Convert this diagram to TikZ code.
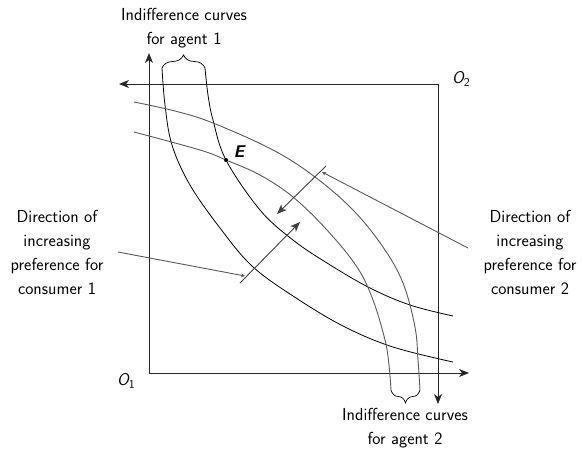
\documentclass[tikz,border=0pt]{standalone}
\usepackage{fontspec}
\usetikzlibrary{arrows.meta,decorations.pathreplacing}
\newcommand{\origlbl}[1]{{\sffamily\itshape O}\raisebox{-3.5pt}{\sffamily\fontsize{12}{12}\selectfont #1}}
\begin{document}
\begin{tikzpicture}[x=1pt,y=-1pt,
  lbl/.style={font=\sffamily\fontsize{17.4}{24}\selectfont, align=center, inner sep=0pt},
  axis/.style={line width=0.9pt, draw=black!85, -{Stealth[length=10pt,width=8pt,inset=3pt]}},
  blackcurve/.style={line width=0.8pt, black},
  graycurve/.style={line width=0.9pt, black!65},
  pointer/.style={line width=0.9pt, black!65, -{Stealth[length=4pt,width=4pt]}},
  dirarrow/.style={line width=0.9pt, black!75, -{Stealth[length=10pt,width=8pt,inset=3pt]}},
  bracestyle/.style={decorate, decoration={brace, amplitude=13pt}, line width=0.7pt}
]
\useasboundingbox (0,0) rectangle (582,451);
% axes
\coordinate (O1) at (149,373);
\coordinate (O2) at (438,84);
\coordinate (Ytip) at (149,53);
\coordinate (Xtip) at (469,373);
\coordinate (X2tip) at (119,84);
\coordinate (Y2tip) at (438,404);
\draw[axis] (O1) -- (Ytip);
\draw[axis] (O1) -- (Xtip);
\draw[axis] (O2) -- (X2tip);
\draw[axis] (O2) -- (Y2tip);
% indifference curves agent 1
\draw[blackcurve] plot[smooth, tension=0.6] coordinates {(162,68) (165,105) (172,145) (190,185) (220,228) (252,266) (293,296) (343,326) (393,347) (453,362)};
\draw[blackcurve] plot[smooth, tension=0.6] coordinates {(205,68) (208,95) (213,120) (226,160) (260,210) (293,240) (327,263) (370,288) (410,305) (453,316)};
% indifference curves agent 2
\draw[graycurve] plot[smooth, tension=0.6] coordinates {(134,102) (175,111) (213,123) (273,150) (315,177) (353,210) (383,247) (403,283) (415,327) (418,360) (420,390)};
\draw[graycurve] plot[smooth, tension=0.6] coordinates {(134,132) (200,150) (226,160) (260,175) (293,197) (327,230) (357,267) (373,300) (385,340) (389,365) (391,390)};
% braces
\draw[bracestyle] (162,68) -- (205,68);
\draw[bracestyle] (420,390) -- (391,390);
% direction arrows
\coordinate (d1s) at (240,283);
\coordinate (d1e) at (300,222);
\coordinate (d2s) at (326,166);
\coordinate (d2e) at (277,214);
\draw[dirarrow] (d1s) -- (d1e);
\draw[dirarrow] (d2s) -- (d2e);
% pointers
\coordinate (p1s) at (118,252);
\coordinate (p1e) at (245,276);
\coordinate (p2s) at (468,248);
\coordinate (p2e) at (322,172);
\draw[pointer] (p1s) -- (p1e);
\draw[pointer] (p2s) -- (p2e);
% point E
\fill (226,160) circle (2pt);
\node[inner sep=0pt, font=\sffamily\bfseries\itshape\fontsize{17}{20}\selectfont] (Elbl) at (239,152) {E};
% labels
\node[lbl] (top) at (184,28) {Indifference curves\\for agent 1};
\node[lbl] (bot) at (405,428) {Indifference curves\\for agent 2};
\node[lbl] (left) at (57,252) {Direction of\\increasing\\preference for\\consumer 1};
\node[lbl] (right) at (530,252) {Direction of\\increasing\\preference for\\consumer 2};
\node[inner sep=0pt, font=\fontsize{17}{20}\selectfont] (o1lbl) at (126,381) {\origlbl{1}};
\node[inner sep=0pt, font=\fontsize{17}{20}\selectfont] (o2lbl) at (461,79) {\origlbl{2}};
\end{tikzpicture}
\end{document}
